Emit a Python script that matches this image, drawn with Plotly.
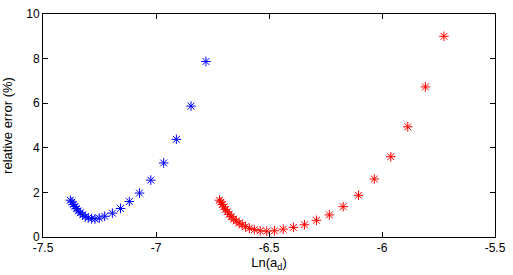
import plotly.graph_objects as go

blue_x = [-7.379, -7.372, -7.366, -7.359, -7.352, -7.344, -7.335, -7.324, -7.313, -7.300,
          -7.285, -7.270, -7.251, -7.227, -7.193, -7.157, -7.118, -7.073, -7.023, -6.966,
          -6.910, -6.845, -6.779]
blue_y = [1.65, 1.57, 1.46, 1.37, 1.28, 1.17, 1.09, 1.00, 0.91, 0.86,
          0.82, 0.81, 0.85, 0.93, 1.07, 1.28, 1.59, 1.97, 2.55, 3.32,
          4.38, 5.87, 7.87]

red_x = [-6.719, -6.713, -6.706, -6.700, -6.693, -6.684, -6.676, -6.667, -6.656, -6.645,
         -6.632, -6.619, -6.604, -6.587, -6.565, -6.539, -6.510, -6.476, -6.437, -6.392,
         -6.343, -6.290, -6.233, -6.172, -6.104, -6.034, -5.961, -5.886, -5.808, -5.726]
red_y = [1.65, 1.57, 1.46, 1.35, 1.24, 1.13, 1.02, 0.91, 0.80, 0.72,
         0.63, 0.54, 0.46, 0.39, 0.33, 0.28, 0.26, 0.28, 0.35, 0.43,
         0.55, 0.75, 0.99, 1.36, 1.87, 2.60, 3.60, 4.94, 6.73, 9.00]

x_ticks = [-7.5, -7, -6.5, -6, -5.5]
x_labels = ["-7.5", "-7", "-6.5", "-6", "-5.5"]
y_ticks = [0, 2, 4, 6, 8, 10]

FONT = "Liberation Sans, Arial"

fig = go.Figure()
fig.add_trace(go.Scatter(x=blue_x, y=blue_y, mode="markers",
                         marker=dict(symbol="asterisk-open", size=8, color="#0000ff",
                                     line=dict(color="#0000ff", width=1))))
fig.add_trace(go.Scatter(x=red_x, y=red_y, mode="markers",
                         marker=dict(symbol="asterisk-open", size=8, color="#ff0000",
                                     line=dict(color="#ff0000", width=1))))

axis_common = dict(showgrid=False, zeroline=False, showline=True, linecolor="black",
                   linewidth=1, mirror="ticks", ticks="inside", ticklen=5,
                   tickcolor="black", tickfont=dict(family=FONT, size=12, color="black"))

fig.update_layout(
    width=513, height=275,
    margin=dict(l=41, r=11, t=7, b=38),
    paper_bgcolor="white", plot_bgcolor="white",
    showlegend=False,
    xaxis=dict(range=[-7.5, -5.5], tickvals=x_ticks, ticktext=x_labels,
               title=dict(text="Ln(a<sub>d</sub>)", standoff=1,
                          font=dict(family=FONT, size=13, color="black")),
               **axis_common),
    yaxis=dict(range=[0, 10], tickvals=y_ticks,
               title=dict(text="relative error (%)", standoff=10,
                          font=dict(family=FONT, size=13, color="black")),
               **axis_common),
)

fig.write_html("out.html")
